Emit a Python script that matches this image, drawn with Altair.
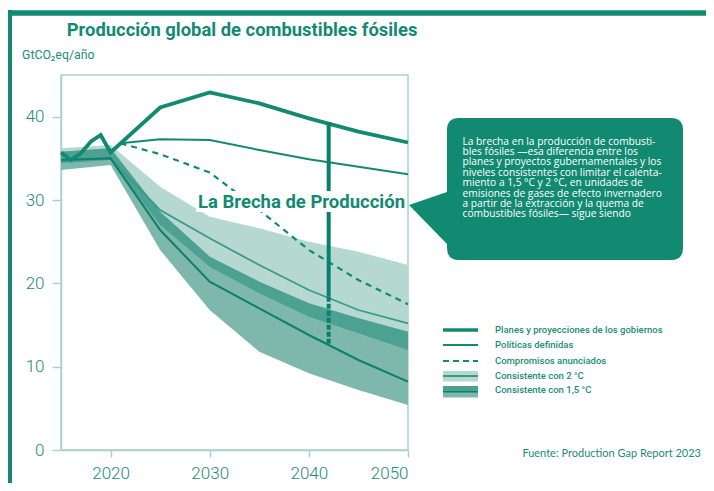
import altair as alt
import pandas as pd
import numpy as np

# ---------------- data ----------------
years_planes = [2015, 2016, 2017, 2018, 2019, 2020, 2025, 2030, 2035, 2040, 2045, 2050]
planes = [35.7, 34.8, 35.6, 37.0, 37.8, 35.7, 41.1, 42.9, 41.6, 39.8, 38.2, 36.9]

years_pol = [2021, 2025, 2030, 2035, 2040, 2045, 2050]
politicas = [36.8, 37.3, 37.2, 36.0, 34.9, 34.0, 33.1]
compromisos = [36.8, 35.5, 33.3, 28.8, 24.0, 20.4, 17.5]

years_band = [2015, 2020, 2025, 2030, 2035, 2040, 2045, 2050]
c2_hi = [36.2, 36.6, 31.6, 28.0, 26.6, 25.0, 23.8, 22.2]
c2_lo = [34.4, 34.8, 27.0, 22.0, 18.8, 16.0, 14.0, 12.0]
c2_mid = [34.8, 35.0, 28.8, 25.4, 22.2, 19.2, 16.8, 15.2]
c15_hi = [35.8, 36.2, 28.6, 23.2, 20.2, 17.6, 15.8, 14.2]
c15_lo = [33.6, 34.2, 24.0, 16.8, 11.8, 9.2, 7.2, 5.4]
c15_mid = [34.8, 35.0, 26.4, 20.2, 17.0, 13.8, 10.8, 8.2]

gap_year = [2042]
gap_top = [39.3]
gap_mid = [18.4]
gap_bottom = [12.6]

x_ticks = [2020, 2030, 2040, 2050]
y_ticks = [0, 10, 20, 30, 40]

title_text = "Producción global de combustibles fósiles"
unit_text = "GtCO₂eq/año"
gap_label = "La Brecha de Producción"
callout_lines = [
    "La brecha en la producción de combusti-",
    "bles fósiles —esa diferencia entre los",
    "planes y  proyectos gubernamentales y los",
    "niveles consistentes con limitar el calenta-",
    "miento a 1,5 °C y 2 °C, en unidades de",
    "emisiones de gases de efecto invernadero",
    "a partir de la extracción y la quema de",
    "combustibles fósiles— sigue siendo",
]
legend_labels = [
    "Planes y proyecciones de los gobiernos",
    "Políticas definidas",
    "Compromisos anunciados",
    "Consistente con 2 °C",
    "Consistente con 1,5 °C",
]
source_text = "Fuente: Production Gap Report 2023"

# ---------------- style ----------------
TEAL = "#128a72"
TEXT = "#1b8c78"
AXIS = "#a8d3ca"
LIGHT = "#b5d8d1"
MED = "#7eb8ad"
OVER = "#4da193"
LINE2 = "#3a9a88"
LINE15 = "#0d7f6a"

W, H = 347, 375

df_planes = pd.DataFrame({"year": years_planes, "value": planes})
df_pol = pd.DataFrame({"year": years_pol, "value": politicas})
df_comp = pd.DataFrame({"year": years_pol, "value": compromisos})
df_band = pd.DataFrame({
    "year": years_band, "c2_hi": c2_hi, "c2_lo": c2_lo, "c2_mid": c2_mid,
    "c15_hi": c15_hi, "c15_lo": c15_lo, "c15_mid": c15_mid,
})
df_band["ov_lo"] = np.maximum(df_band["c2_lo"], df_band["c15_lo"])
df_band["ov_hi"] = np.minimum(df_band["c2_hi"], df_band["c15_hi"])
df_gap = pd.DataFrame({"year": gap_year, "top": gap_top, "mid": gap_mid, "bottom": gap_bottom})

xscale = alt.Scale(domain=[2015, 2050], nice=False, zero=False)
yscale = alt.Scale(domain=[0, 45], nice=False)
xaxis = alt.Axis(values=x_ticks, format="d", title=None, grid=False, tickSize=7,
                 labelPadding=8, domainColor=AXIS, tickColor=AXIS, domainWidth=1.5,
                 tickWidth=1.5, labelColor=TEXT, labelFont="Roboto", labelFontSize=17,
                 labelFontWeight=300)
yaxis = alt.Axis(values=y_ticks, title=None, grid=False, tickSize=9, labelPadding=8,
                 domainColor=AXIS, tickColor=AXIS, domainWidth=1.5, tickWidth=1.5,
                 labelColor=TEXT, labelFont="Roboto", labelFontSize=17, labelFontWeight=300)


def X(field="year"):
    return alt.X(f"{field}:Q", scale=xscale, axis=xaxis)


def Y(field):
    return alt.Y(f"{field}:Q", scale=yscale, axis=yaxis)


base_band = alt.Chart(df_band)
band2 = base_band.mark_area(color=LIGHT, opacity=1).encode(x=X(), y=Y("c2_lo"), y2="c2_hi:Q")
band15 = base_band.mark_area(color=MED, opacity=1).encode(x=X(), y=Y("c15_lo"), y2="c15_hi:Q")
bandov = base_band.mark_area(color=OVER, opacity=1).encode(x=X(), y=Y("ov_lo"), y2="ov_hi:Q")
line2 = base_band.mark_line(color=LINE2, strokeWidth=1.8).encode(x=X(), y=Y("c2_mid"))
line15 = base_band.mark_line(color=LINE15, strokeWidth=2).encode(x=X(), y=Y("c15_mid"))

comp = alt.Chart(df_comp).mark_line(color=TEAL, strokeWidth=2.2, strokeDash=[6, 5]).encode(
    x=X(), y=Y("value"))
pol = alt.Chart(df_pol).mark_line(color=TEAL, strokeWidth=2).encode(x=X(), y=Y("value"))
plan = alt.Chart(df_planes).mark_line(color=TEAL, strokeWidth=3.8).encode(x=X(), y=Y("value"))

gap_solid = alt.Chart(df_gap).mark_rule(color="#0a806b", strokeWidth=4).encode(
    x=X(), y=Y("top"), y2="mid:Q")
gap_dash = alt.Chart(df_gap).mark_rule(color="#0a806b", strokeWidth=4, strokeDash=[5, 2]).encode(
    x=X(), y=Y("mid"), y2="bottom:Q")


def one(text=""):
    return alt.Chart(pd.DataFrame({"t": [text]}))


label_bg = one().mark_rect(color="white").encode(
    x=alt.value(135), x2=alt.value(346), y=alt.value(116), y2=alt.value(137))
label = one(gap_label).mark_text(font="Roboto", fontWeight="bold", fontSize=18.5, color=TEAL,
                                 align="center", baseline="middle").encode(
    x=alt.value(240.5), y=alt.value(127), text="t:N")

callout_path = ("M398,43 H610 Q622,43 622,55 V173 Q622,185 610,185 H398 Q386,185 386,173 "
                "V169 L348,130 L386,117 V55 Q386,43 398,43 Z")
callout = one().mark_point(shape=callout_path, filled=True, size=4, color=TEAL, opacity=1,
                           strokeWidth=0).encode(x=alt.value(0), y=alt.value(0))
callout_txt = one("\n".join(callout_lines)).mark_text(
    font="Open Sans", fontSize=10.2, color="white", align="left", baseline="alphabetic",
    lineBreak="\n", lineHeight=10.4).encode(x=alt.value(401.5), y=alt.value(69.5), text="t:N")

# legend
LX0, LX1 = 382, 417
leg = [
    one().mark_rule(color=TEAL, strokeWidth=3.5).encode(x=alt.value(LX0), x2=alt.value(LX1), y=alt.value(255)),
    one().mark_rule(color=TEAL, strokeWidth=2).encode(x=alt.value(LX0), x2=alt.value(LX1), y=alt.value(270)),
    one().mark_rule(color=TEAL, strokeWidth=2, strokeDash=[6, 4]).encode(x=alt.value(LX0), x2=alt.value(LX1), y=alt.value(286)),
    one().mark_rect(color=LIGHT).encode(x=alt.value(LX0), x2=alt.value(LX1), y=alt.value(296), y2=alt.value(306.5)),
    one().mark_rule(color=LINE2, strokeWidth=2).encode(x=alt.value(LX0), x2=alt.value(LX1), y=alt.value(301)),
    one().mark_rect(color=OVER).encode(x=alt.value(LX0), x2=alt.value(LX1), y=alt.value(311), y2=alt.value(315.5)),
    one().mark_rect(color=MED).encode(x=alt.value(LX0), x2=alt.value(LX1), y=alt.value(315.5), y2=alt.value(322.5)),
    one().mark_rule(color=LINE15, strokeWidth=2).encode(x=alt.value(LX0), x2=alt.value(LX1), y=alt.value(316.5)),
]
for lab, yy in zip(legend_labels, [255, 270, 285.5, 300.5, 315]):
    leg.append(one(lab).mark_text(font="Roboto", fontWeight=500, fontSize=9.5, color=TEXT,
                                  align="left", baseline="middle").encode(
        x=alt.value(434), y=alt.value(yy), text="t:N"))

title = one(title_text).mark_text(font="Roboto", fontWeight="bold", fontSize=18.4, color=TEAL,
                                  align="left", baseline="middle").encode(
    x=alt.value(5.7), y=alt.value(-45), text="t:N")
unit = one(unit_text).mark_text(font="Roboto", fontSize=12.3, color=TEXT, align="left",
                                baseline="middle").encode(x=alt.value(-39), y=alt.value(-20), text="t:N")
source = one(source_text).mark_text(font="Lato", fontSize=11, color=TEXT, align="right",
                                    baseline="middle").encode(x=alt.value(640), y=alt.value(379), text="t:N")

frame_top = one().mark_rule(color=TEAL, strokeWidth=5.5).encode(
    x=alt.value(-53), x2=alt.value(646), y=alt.value(-62))
frame_left = one().mark_rule(color=TEAL, strokeWidth=5).encode(
    x=alt.value(-51.5), y=alt.value(-65), y2=alt.value(410))

chart = alt.layer(
    band2, band15, bandov, line2, line15, comp, pol, plan, gap_solid, gap_dash,
    label_bg, label, callout, callout_txt, *leg, title, unit, source, frame_top, frame_left,
).properties(
    width=W, height=H, autosize="none",
    padding={"left": 53, "top": 67, "right": 298, "bottom": 33},
).configure_view(stroke=AXIS, strokeWidth=1.5)

chart.save("out.html", embed_options={"renderer": "svg", "actions": False})
